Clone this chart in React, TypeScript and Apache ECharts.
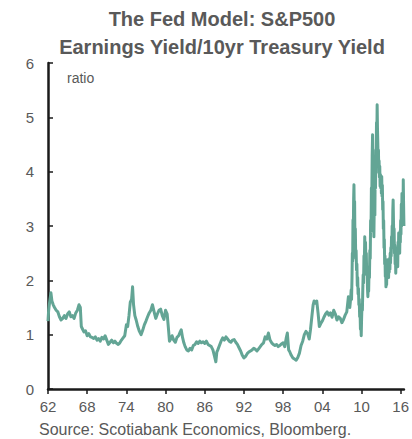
import React, { useEffect, useRef } from "react";
import * as echarts from "echarts";

const TITLE_LINES = ["The Fed Model: S&P500", "Earnings Yield/10yr Treasury Yield"];
const UNIT_LABEL = "ratio";
const SOURCE = "Source: Scotiabank Economics, Bloomberg.";
const X_TICKS = [1962, 1968, 1974, 1980, 1986, 1992, 1998, 2004, 2010, 2016];

// 1962 - 2007
const YEARS_EARLY = [
  1962.0, 1962.1, 1962.3, 1962.45, 1962.6, 1962.8, 1963.0, 1963.25, 1963.5, 1963.75,
  1964.0, 1964.25, 1964.5, 1964.75, 1965.0, 1965.25, 1965.5, 1965.75, 1966.0, 1966.25,
  1966.5, 1966.75, 1966.95, 1967.1, 1967.3, 1967.5, 1967.75, 1968.0, 1968.25, 1968.5,
  1968.75, 1969.0, 1969.25, 1969.5, 1969.75, 1970.0, 1970.25, 1970.5, 1970.75, 1971.0,
  1971.25, 1971.5, 1971.75, 1972.0, 1972.25, 1972.5, 1972.75, 1973.0, 1973.25, 1973.5,
  1973.75, 1974.0, 1974.2, 1974.4, 1974.6, 1974.8, 1974.95, 1975.1, 1975.3, 1975.5,
  1975.75, 1976.0, 1976.25, 1976.5, 1976.75, 1977.0, 1977.25, 1977.5, 1977.75, 1978.0,
  1978.25, 1978.5, 1978.75, 1979.0, 1979.25, 1979.5, 1979.75, 1980.0, 1980.25, 1980.45,
  1980.6, 1980.8, 1981.0, 1981.25, 1981.5, 1981.75, 1982.0, 1982.25, 1982.4, 1982.6,
  1982.8, 1983.0, 1983.25, 1983.5, 1983.75, 1984.0, 1984.25, 1984.5, 1984.75, 1985.0,
  1985.25, 1985.5, 1985.75, 1986.0, 1986.25, 1986.5, 1986.75, 1987.0, 1987.25, 1987.5,
  1987.7, 1987.85, 1988.0, 1988.25, 1988.5, 1988.75, 1989.0, 1989.25, 1989.5, 1989.75,
  1990.0, 1990.25, 1990.5, 1990.75, 1991.0, 1991.25, 1991.5, 1991.75, 1992.0, 1992.25,
  1992.5, 1992.75, 1993.0, 1993.25, 1993.5, 1993.75, 1994.0, 1994.25, 1994.5, 1994.75,
  1995.0, 1995.25, 1995.5, 1995.75, 1996.0, 1996.25, 1996.5, 1996.75, 1997.0, 1997.25,
  1997.5, 1997.75, 1998.0, 1998.25, 1998.5, 1998.65, 1998.85, 1999.0, 1999.25, 1999.5,
  1999.75, 2000.0, 2000.25, 2000.5, 2000.75, 2001.0, 2001.25, 2001.5, 2001.75, 2002.0,
  2002.2, 2002.4, 2002.6, 2002.75, 2002.95, 2003.15, 2003.35, 2003.55, 2003.75, 2004.0,
  2004.25, 2004.5, 2004.75, 2005.0, 2005.25, 2005.5, 2005.75, 2006.0, 2006.25, 2006.5,
  2006.75, 2007.0, 2007.25, 2007.5, 2007.75,
];
const RATIO_EARLY = [
  1.25, 1.45, 1.65, 1.77, 1.62, 1.55, 1.5, 1.45, 1.42, 1.33,
  1.27, 1.3, 1.35, 1.3, 1.38, 1.42, 1.33, 1.35, 1.3, 1.4,
  1.45, 1.55, 1.5, 1.15, 1.1, 1.05, 1.07, 0.98, 1.02, 0.96,
  0.95, 0.93, 0.96, 0.9, 0.93, 0.88, 0.95, 0.92, 0.98, 0.9,
  0.82, 0.86, 0.9, 0.85, 0.88, 0.84, 0.82, 0.85, 0.9, 0.94,
  0.98, 1.18, 1.15, 1.35, 1.6, 1.65, 1.88, 1.55, 1.35, 1.27,
  1.15, 1.06, 1.0, 1.08, 1.18, 1.25, 1.33, 1.4, 1.45, 1.55,
  1.42, 1.3, 1.38, 1.45, 1.47, 1.35, 1.28, 1.45, 1.38, 1.1,
  0.88, 0.92, 0.98, 0.9, 0.86, 0.95, 0.98, 1.05, 1.09, 0.95,
  0.85, 0.78, 0.72, 0.7, 0.75, 0.72, 0.8, 0.82, 0.87, 0.84,
  0.88, 0.85, 0.87, 0.84, 0.88, 0.82, 0.8, 0.78, 0.72, 0.6,
  0.5, 0.68, 0.72, 0.8, 0.88, 0.94, 0.9, 0.96, 0.92, 0.88,
  0.86, 0.9, 0.91, 0.86, 0.82, 0.76, 0.7, 0.62, 0.57, 0.6,
  0.65, 0.68, 0.7, 0.72, 0.75, 0.73, 0.7, 0.74, 0.78, 0.82,
  0.85, 0.96, 0.92, 1.03, 0.9, 0.85, 0.82, 0.8, 0.82, 0.78,
  0.8, 0.83, 0.85, 0.78, 0.95, 1.03, 0.72, 0.69, 0.62, 0.57,
  0.55, 0.53, 0.58, 0.66, 0.8, 0.88, 1.0, 1.06, 1.02, 0.92,
  1.1, 1.33, 1.55, 1.62, 1.58, 1.62, 1.4, 1.15, 1.2, 1.25,
  1.32, 1.38, 1.42, 1.36, 1.4, 1.32, 1.45, 1.38, 1.27, 1.33,
  1.3, 1.22, 1.28, 1.36, 1.42,
];

// 2008 - mid 2016 (denser, very volatile)
const YEARS_LATE = [
  2008.0, 2008.07, 2008.14, 2008.21, 2008.28, 2008.35, 2008.42, 2008.48, 2008.55, 2008.6,
  2008.65, 2008.7, 2008.75, 2008.8, 2008.85, 2008.9, 2008.95, 2009.0, 2009.06, 2009.12,
  2009.18, 2009.24, 2009.3, 2009.36, 2009.42, 2009.48, 2009.54, 2009.6, 2009.66, 2009.72,
  2009.78, 2009.84, 2009.9, 2009.96, 2010.02, 2010.08, 2010.14, 2010.2, 2010.26, 2010.32,
  2010.38, 2010.44, 2010.5, 2010.56, 2010.62, 2010.68, 2010.74, 2010.8, 2010.86, 2010.92,
  2010.98, 2011.04, 2011.1, 2011.16, 2011.22, 2011.28, 2011.34, 2011.4, 2011.46, 2011.52,
  2011.58, 2011.64, 2011.7, 2011.75, 2011.8, 2011.85, 2011.9, 2011.95, 2012.0, 2012.05,
  2012.1, 2012.15, 2012.2, 2012.25, 2012.3, 2012.35, 2012.4, 2012.45, 2012.5, 2012.55,
  2012.6, 2012.65, 2012.7, 2012.75, 2012.8, 2012.85, 2012.9, 2012.95, 2013.0, 2013.05,
  2013.1, 2013.15, 2013.2, 2013.25, 2013.3, 2013.35, 2013.4, 2013.45, 2013.5, 2013.55,
  2013.6, 2013.65, 2013.7, 2013.75, 2013.8, 2013.85, 2013.9, 2013.95, 2014.0, 2014.05,
  2014.1, 2014.15, 2014.2, 2014.25, 2014.3, 2014.35, 2014.4, 2014.45, 2014.5, 2014.55,
  2014.6, 2014.65, 2014.7, 2014.75, 2014.8, 2014.85, 2014.9, 2014.95, 2015.0, 2015.05,
  2015.1, 2015.15, 2015.2, 2015.25, 2015.3, 2015.35, 2015.4, 2015.45, 2015.5, 2015.55,
  2015.6, 2015.65, 2015.7, 2015.75, 2015.8, 2015.85, 2015.9, 2015.95, 2016.0, 2016.05,
  2016.1, 2016.15, 2016.2, 2016.25, 2016.3, 2016.35, 2016.4, 2016.45, 2016.5,
];
const RATIO_LATE = [
  1.7, 1.55, 1.62, 1.5, 1.58, 1.68, 1.82, 1.65, 2.05, 2.5,
  2.35, 3.11, 2.9, 3.5, 3.76, 3.2, 3.45, 2.7, 2.95, 2.4,
  2.55, 2.19, 2.3, 1.9, 2.05, 1.75, 1.85, 1.55, 1.65, 1.33,
  1.45, 1.1, 1.25, 0.98, 1.3, 1.55, 1.45, 1.82, 2.1, 1.95,
  2.45, 2.3, 2.8, 2.45, 2.7, 2.3, 2.5, 2.1, 2.25, 1.85,
  1.7, 1.95, 1.8, 2.2, 2.05, 2.55, 2.4, 3.1, 2.9, 3.7,
  3.5, 4.3, 4.68, 4.1, 3.6, 3.9, 2.8, 3.3, 3.6, 3.2,
  4.0, 3.7, 4.4, 4.1, 4.9, 4.6, 5.23, 4.8, 4.53, 4.2,
  4.4, 3.98, 4.2, 3.9, 4.1, 3.73, 3.95, 3.7, 3.85, 3.6,
  3.91, 3.55, 3.75, 3.3, 3.45, 2.95, 3.1, 2.6, 2.75, 2.3,
  2.45, 2.07, 2.2, 1.88, 2.05, 1.92, 2.25, 2.1, 2.38, 2.15,
  2.35, 2.05, 2.3, 2.15, 2.4, 2.2, 2.5, 2.32, 2.6, 2.45,
  2.8, 2.6, 3.0, 2.8, 3.3, 3.48, 3.1, 2.8, 2.95, 2.5,
  2.65, 2.3, 2.45, 2.13, 2.4, 2.25, 2.6, 2.35, 2.55, 2.25,
  2.7, 2.5, 2.87, 2.55, 2.8, 2.5, 2.9, 2.7, 3.1, 2.85,
  3.4, 3.0, 3.6, 3.2, 3.45, 3.1, 3.85, 3.4, 3.0,
];

const FONT = "'Liberation Sans', Arial, Helvetica, sans-serif";
const GRAY = "#595959";
const AXIS = "#1a1a1a";

export default function App() {
  const ref = useRef<HTMLDivElement>(null);
  useEffect(() => {
    if (!ref.current) return;
    const chart = echarts.init(ref.current, undefined, { renderer: "svg" });
    const years = YEARS_EARLY.concat(YEARS_LATE);
    const ratio = RATIO_EARLY.concat(RATIO_LATE);
    const data = years.map((y, i) => [y, ratio[i]]);
    chart.setOption({
      animation: false,
      backgroundColor: "#ffffff",
      grid: { left: 48, right: 6, top: 63, bottom: 50, containLabel: false },
      xAxis: {
        type: "value",
        min: 1962,
        max: 2016.5,
        interval: 6,
        splitLine: { show: false },
        axisLine: { show: true, lineStyle: { color: AXIS, width: 2.5 } },
        axisTick: { show: true, inside: false, length: 5, customValues: X_TICKS, lineStyle: { color: AXIS, width: 1.5 } },
        axisLabel: {
          customValues: X_TICKS,
          formatter: (v: number) => String(Math.round(v)).slice(2),
          color: GRAY,
          fontSize: 15,
          fontFamily: FONT,
          margin: 10,
        },
      },
      yAxis: {
        type: "value",
        min: 0,
        max: 6,
        interval: 1,
        splitLine: { show: false },
        axisLine: { show: true, lineStyle: { color: AXIS, width: 2.5 } },
        axisTick: { show: true, inside: true, length: 5, lineStyle: { color: AXIS, width: 1.5 } },
        axisLabel: { color: GRAY, fontSize: 15, fontFamily: FONT, margin: 14 },
      },
      graphic: [
        {
          type: "text",
          x: 222,
          y: 9,
          style: { text: TITLE_LINES[0], font: `bold 20px ${FONT}`, fill: GRAY, textAlign: "center", textVerticalAlign: "top" },
        },
        {
          type: "text",
          x: 222,
          y: 37,
          style: { text: TITLE_LINES[1], font: `bold 20px ${FONT}`, fill: GRAY, textAlign: "center", textVerticalAlign: "top" },
        },
        {
          type: "text",
          x: 67,
          y: 71,
          style: { text: UNIT_LABEL, font: `14px ${FONT}`, fill: GRAY, textVerticalAlign: "top" },
        },
        {
          type: "text",
          x: 39,
          y: 421,
          style: { text: SOURCE, font: `16px ${FONT}`, fill: GRAY, textVerticalAlign: "top" },
        },
      ],
      series: [
        {
          type: "line",
          data,
          showSymbol: false,
          symbol: "none",
          lineStyle: { color: "#63a595", width: 3, join: "round" },
          clip: true,
        },
      ],
    });
    return () => chart.dispose();
  }, []);
  return <div ref={ref} style={{ width: 412, height: 439, position: "absolute", left: 0, top: 0 }} />;
}
